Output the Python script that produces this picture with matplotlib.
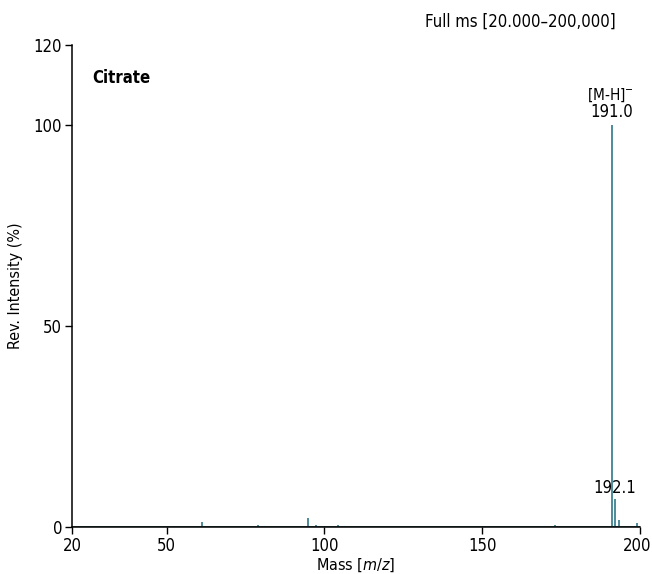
import matplotlib.pyplot as plt
import matplotlib.transforms as mtransforms

plt.rcParams['font.family'] = ['DejaVu Sans']
plt.rcParams['font.stretch'] = 'condensed'

# peak list (m/z, relative intensity %)
mz = [61.2, 79.1, 94.9, 97.2, 104.2, 165.1, 173.2, 185.3, 191.0, 192.1, 193.5, 199.1]
intensity = [1.2, 0.5, 2.2, 0.4, 0.5, 0.3, 0.4, 0.3, 100.0, 6.9, 1.8, 1.0]

xticks = [20, 50, 100, 150, 200]
yticks = [0, 50, 100, 120]

teal = '#1d6b7d'

fig = plt.figure(figsize=(6.52, 5.74), dpi=100)
ax = fig.add_axes([0.1104, 0.0819, 0.8712, 0.8397])

ax.vlines(mz, 0, intensity, color=teal, linewidth=1.1)
ax.axhline(0, color='#16404a', linewidth=1.2, zorder=0)

ax.set_xlim(20, 200)
ax.set_ylim(0, 120)
ax.set_xticks(xticks)
ax.set_yticks(yticks)
ax.tick_params(direction='out', length=5, width=1, labelsize=12, pad=2)
for s in ['top', 'right']:
    ax.spines[s].set_visible(False)
ax.spines['left'].set_linewidth(1.1)
ax.spines['bottom'].set_linewidth(1.1)

# keep the last x tick label inside the figure
last = ax.get_xticklabels()[-1]
last.set_transform(last.get_transform() +
                   mtransforms.ScaledTranslation(-3 / 100, 0, fig.dpi_scale_trans))

ax.set_ylabel('Rev. Intensity (%)', fontsize=11.5, labelpad=8)
ax.set_xlabel('Mass [$\\it{m/z}$]', fontsize=11.5, labelpad=1)

ax.text(0.036, 0.932, 'Citrate', transform=ax.transAxes, fontsize=12,
        fontweight='bold', va='center', ha='left')
ax.text(190.6, 107.6, '[M-H]$^{-}$', fontsize=11, ha='center', va='center')
ax.text(191.0, 103.2, '191.0', fontsize=12, ha='center', va='center')
ax.text(192.1, 9.8, '192.1', fontsize=12, ha='center', va='center')

fig.text(0.7975, 0.962, 'Full ms [20.000\u2013200,000]', fontsize=12,
         ha='center', va='center')

fig.savefig('out.png', dpi=100)
